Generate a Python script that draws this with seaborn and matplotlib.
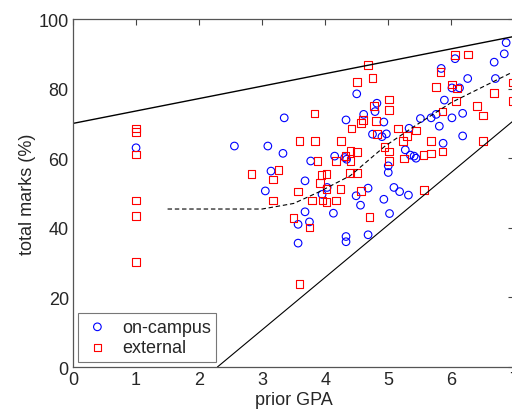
import matplotlib
matplotlib.use("Agg")
import matplotlib.pyplot as plt
import seaborn as sns

# on-campus students (prior GPA, total marks %)
campus_gpa = [1.0, 2.56, 3.09, 3.35, 3.33, 3.14, 3.05, 3.68, 3.77, 4.03, 3.95, 4.68, 4.49,
              4.50, 4.82, 4.79, 4.61, 4.33, 4.93, 4.75, 4.97, 4.90, 4.15, 4.31, 4.34, 5.0,
              5.0, 5.09, 5.18, 5.32, 4.93, 4.56, 4.13, 3.68, 3.57, 3.75, 3.57, 4.33, 4.33,
              4.68, 5.02, 5.33, 5.27, 5.35, 5.41, 5.44, 5.51, 5.68, 5.76, 5.81, 5.87, 5.89,
              5.84, 6.06, 6.01, 6.13, 6.01, 6.18, 6.18, 6.26, 6.70, 6.68, 6.84, 6.87]
campus_marks = [63.0, 63.5, 63.5, 71.6, 61.4, 56.3, 50.6, 53.5, 59.2, 51.6, 49.6, 51.4, 49.2,
                78.5, 75.8, 73.4, 72.6, 71.0, 70.4, 66.9, 67.0, 66.2, 60.6, 60.2, 59.7, 57.8,
                55.9, 51.6, 50.4, 49.4, 48.2, 46.5, 44.2, 44.6, 41.0, 41.7, 35.6, 37.5, 36.0,
                38.0, 44.1, 68.6, 62.4, 60.9, 60.6, 60.0, 71.4, 71.6, 72.6, 69.2, 64.3, 76.7,
                85.8, 88.6, 80.2, 80.2, 71.6, 72.9, 66.4, 82.9, 82.9, 87.6, 90.0, 93.2]

# external students
ext_gpa = [1, 1, 1, 1, 1, 1, 2.83, 3.26, 3.17, 3.17, 3.50, 3.59, 3.75, 3.57, 3.59, 3.83,
           3.84, 3.88, 3.79, 3.92, 3.94, 4.02, 3.96, 4.02, 4.02, 4.17, 4.17, 4.24, 4.25,
           4.32, 4.40, 4.50, 4.40, 4.39, 4.50, 4.42, 4.50, 4.57, 4.60, 4.57, 4.68, 4.70,
           4.75, 4.77, 4.81, 4.82, 4.94, 5.01, 5.01, 5.01, 5.01, 5.15, 5.23, 5.25, 5.30,
           5.44, 5.56, 5.57, 5.68, 5.68, 5.76, 5.83, 5.86, 5.86, 6.01, 6.06, 6.07, 6.09,
           6.26, 6.41, 6.50, 6.50, 6.68, 6.97, 6.97]
ext_marks = [68.5, 67.5, 61.1, 47.8, 43.4, 30.2, 55.4, 56.6, 53.9, 47.9, 42.8, 23.8, 40.1,
             50.4, 64.9, 72.8, 64.9, 59.2, 47.9, 52.8, 55.2, 55.4, 47.9, 47.4, 51.2, 47.8,
             59.2, 51.2, 64.9, 60.7, 62.1, 61.8, 59.2, 55.7, 55.7, 68.5, 81.9, 70.2, 71.0,
             50.6, 86.7, 43.1, 83.1, 75.0, 70.7, 66.9, 63.2, 76.9, 73.8, 61.9, 59.2, 68.5,
             64.9, 59.9, 66.4, 68.0, 60.9, 50.8, 64.9, 61.4, 80.4, 84.8, 73.4, 61.9, 81.2,
             89.7, 76.4, 80.0, 89.8, 75.0, 72.3, 64.9, 78.8, 81.8, 76.4]

# bounding lines and smoothed trend
upper_x = [0, 7]
upper_y = [70, 95]
lower_x = [2.29, 7]
lower_y = [0, 71]
trend_x = [1.5, 3.0, 3.5, 3.9, 4.4, 4.95, 5.4, 6.0, 7.0]
trend_y = [45.4, 45.4, 47.0, 50.3, 55.0, 63.5, 69.0, 76.0, 85.0]

sns.set_style("white")
plt.rcParams["font.family"] = ["Liberation Sans", "DejaVu Sans"]

fig = plt.figure(figsize=(5.12, 4.10), dpi=100)
ax = fig.add_axes([0.1426, 0.1024, 0.862, 0.8488])

ax.plot(upper_x, upper_y, color="black", lw=1.0)
ax.plot(lower_x, lower_y, color="black", lw=0.8)
ax.plot(trend_x, trend_y, color="black", lw=0.8, ls=(0, (4, 2.5)))

sns.scatterplot(x=campus_gpa, y=campus_marks, marker="o", s=30,
                facecolors="none", edgecolor="blue", linewidth=0.8,
                label="on-campus", ax=ax)
sns.scatterplot(x=ext_gpa, y=ext_marks, marker="s", s=30,
                facecolors="none", edgecolor="red", linewidth=0.8,
                label="external", ax=ax)

ax.set_xlim(0, 7)
ax.set_ylim(0, 100)
ax.set_xticks(range(0, 8))
ax.set_yticks(range(0, 101, 20))
ax.tick_params(direction="in", top=True, right=True, length=4, width=0.8,
               labelsize=13, color="#444444", pad=3)
for sp in ax.spines.values():
    sp.set_color("#555555")
    sp.set_linewidth(0.9)

ax.set_xlabel("prior GPA", fontsize=13, labelpad=2)
ax.set_ylabel("total marks (%)", fontsize=13, labelpad=2)

leg = ax.legend(loc="lower left", fontsize=13, frameon=True, fancybox=False,
                borderaxespad=0.3, handletextpad=0.6, borderpad=0.3,
                labelspacing=0.2, handlelength=1.5)
leg.get_frame().set_edgecolor("#555555")
leg.get_frame().set_linewidth(0.8)

fig.savefig("out.png", dpi=100)
